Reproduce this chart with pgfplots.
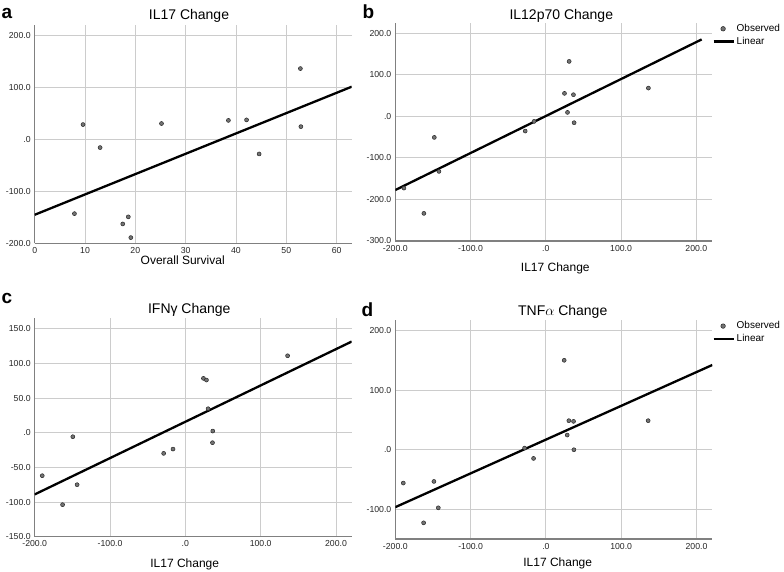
\documentclass[border=0pt]{standalone}
\usepackage{fontspec}
\setmainfont{Liberation Sans}
\usepackage{pgfplots}
\pgfplotsset{compat=1.18}
\pgfplotsset{
  spss/.style={
    scale only axis, width=317pt,
    axis x line*=bottom, axis y line*=left,
    axis line style={draw=black!50, line width=1.2pt, -},
    grid=major, major grid style={draw=black!20, line width=0.9pt},
    major tick length=0pt,
    tick label style={font=\fontsize{8.7}{10}\selectfont, text=black!85},
    xticklabel style={yshift=-0.5pt},
    yticklabel style={xshift=-0.5pt},
  },
  obs/.style={only marks, mark=*, mark size=2pt, mark options={fill=black!55, draw=black!85, line width=0.5pt}},
  fit/.style={black, line width=2.3pt, no marks},
  leg/.style={legend style={draw=none, fill=none, at={(1,1)}, anchor=north west, xshift=0pt, yshift=0.5pt,
     font=\fontsize{10}{11}\selectfont, cells={anchor=west}, row sep=0pt, inner sep=0pt}},
}
\newcommand{\xt}{xtick={-200,-100,0,100,200}, xticklabels={-200.0,-100.0,.0,100.0,200.0}}
\begin{document}
\begin{tikzpicture}
\path[use as bounding box] (0,0) rectangle (784pt,571pt);
% ---------- a ----------
\begin{axis}[spss, at={(34.7pt,327.7pt)}, anchor=south west, height=218.3pt,
  xmin=0, xmax=63, ymin=-200, ymax=221,
  xtick={0,10,20,30,40,50,60}, xticklabels={0,10,20,30,40,50,60},
  ytick={-200,-100,0,100,200}, yticklabels={-200.0,-100.0,.0,100.0,200.0}]
\addplot[obs] table {
x y
7.9 -142.8
9.6 29
13.0 -15.4
17.5 -162.7
18.6 -149
19.1 -189
25.2 31
38.5 37
42.1 38
44.6 -27.7
52.8 137
52.9 25
};
\addplot[fit] coordinates {(0,-145) (63,102)};
\end{axis}
% ---------- b ----------
\begin{axis}[spss, leg, at={(395.3pt,330pt)}, anchor=south west, height=218.3pt,
  xmin=-200, xmax=221.2, ymin=-300, ymax=225.6, \xt,
  ytick={-300,-200,-100,0,100,200}, yticklabels={-300.0,-200.0,-100.0,.0,100.0,200.0}]
\addplot[obs, legend image code/.code={\draw[black!85, fill=black!55, line width=0.5pt] (10pt,0pt) circle (2.3pt);}] table {
x y
-188.5 -172.6
-162 -233.5
-148.2 -50.6
-142 -132.4
-27.4 -35.3
-15.5 -12
24.8 55.4
28.8 9.6
31 132.4
36.7 52.2
37.6 -15.2
136.3 68.2
};
\addlegendentry{Observed}
\addplot[fit, legend image code/.code={\draw[black, line width=2.2pt] (0.5pt,0pt) -- (20.5pt,0pt);}] coordinates {(-200,-177.3) (207,185.3)};
\addlegendentry{Linear}
\end{axis}
% ---------- c ----------
\begin{axis}[spss, at={(34.7pt,34.3pt)}, anchor=south west, height=219pt,
  xmin=-200, xmax=220.8, ymin=-150, ymax=165.9, \xt,
  ytick={-150,-100,-50,0,50,100,150}, yticklabels={-150.0,-100.0,-50.0,.0,50.0,100.0,150.0}]
\addplot[obs] table {
x y
-190 -62
-163 -103.8
-149.4 -5.8
-143.7 -75
-28.8 -29.8
-16.4 -23.6
24 78.4
28 76
30.2 34.6
36 -14.4
36.4 2.4
135.7 111
};
\addplot[fit] coordinates {(-200,-89) (220.8,131.5)};
\end{axis}
% ---------- d ----------
\begin{axis}[spss, leg, at={(395.3pt,32pt)}, anchor=south west, height=219pt,
  xmin=-200, xmax=221, ymin=-150, ymax=218, \xt,
  ytick={-100,0,100,200}, yticklabels={-100.0,.0,100.0,200.0}]
\addplot[obs, legend image code/.code={\draw[black!85, fill=black!55, line width=0.5pt] (10pt,0pt) circle (2.3pt);}] table {
x y
-189.4 -56
-162.4 -122.8
-148.7 -53.3
-142.9 -97.6
-28.3 2.8
-16.4 -14.6
24.3 150.3
28.3 24.7
30.5 48.8
36.7 47.7
37.2 0
135.8 48.8
};
\addlegendentry{Observed}
\addplot[fit, legend image code/.code={\draw[black, line width=2.2pt] (0.5pt,0pt) -- (20.5pt,0pt);}] coordinates {(-200,-96.5) (221,142.4)};
\addlegendentry{Linear}
\end{axis}
% ---------- text ----------
\begin{scope}[every node/.style={inner sep=0pt}]
\node[anchor=base west, font=\fontsize{19}{20}\selectfont\bfseries] at (1.5pt,552pt) {a};
\node[anchor=base west, font=\fontsize{19}{20}\selectfont\bfseries] at (362.5pt,552.7pt) {b};
\node[anchor=base west, font=\fontsize{19}{20}\selectfont\bfseries] at (1.5pt,267.7pt) {c};
\node[anchor=base west, font=\fontsize{19}{20}\selectfont\bfseries] at (361.5pt,254.3pt) {d};
\node[anchor=base, font=\fontsize{14}{15}\selectfont] at (189pt,551.7pt) {IL17 Change};
\node[anchor=base, font=\fontsize{14}{15}\selectfont] at (561.3pt,551pt) {IL12p70 Change};
\node[anchor=base, font=\fontsize{14}{15}\selectfont] at (189.3pt,257.3pt) {IFNγ Change};
\node[anchor=base, font=\fontsize{14}{15}\selectfont] at (562.7pt,255.3pt) {TNF$\alpha$ Change};
\node[anchor=base, font=\fontsize{12}{13}\selectfont] at (182.7pt,306.5pt) {Overall Survival};
\node[anchor=base, font=\fontsize{12}{13}\selectfont] at (555.3pt,299.3pt) {IL17 Change};
\node[anchor=base, font=\fontsize{12}{13}\selectfont] at (184.7pt,4pt) {IL17 Change};
\node[anchor=base, font=\fontsize{12}{13}\selectfont] at (557.7pt,4.3pt) {IL17 Change};
\end{scope}
\end{tikzpicture}
\end{document}
